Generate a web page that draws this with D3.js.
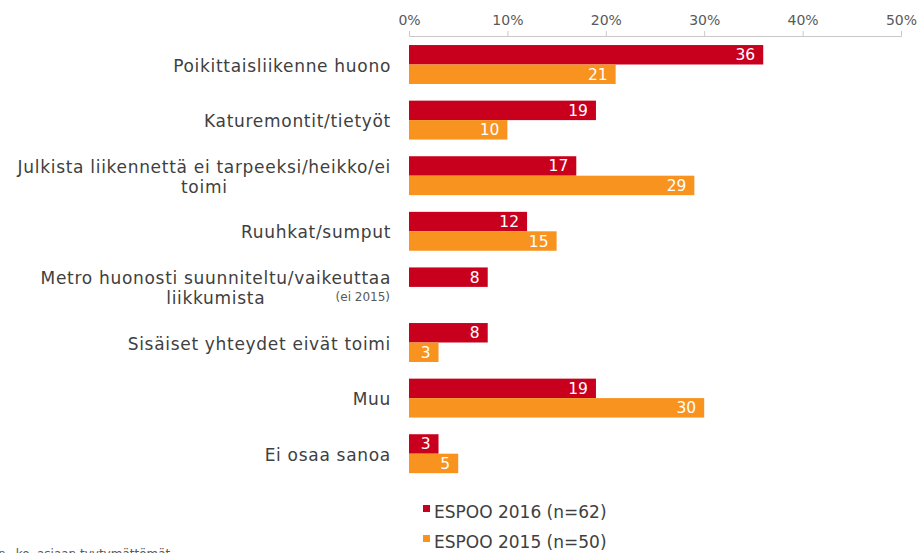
<!DOCTYPE html>
<html>
<head>
<meta charset="utf-8">
<script src="https://cdn.jsdelivr.net/npm/d3@7"></script>
<style>
  body { margin: 0; background: #fff; }
  svg { display: block; font-family: "DejaVu Sans", Verdana, sans-serif; }
</style>
</head>
<body>
<script>
// categories (each entry = lines of the wrapped label)
var categories = [
  ["Poikittaisliikenne huono"],
  ["Katuremontit/tietyöt"],
  ["Julkista liikennettä ei tarpeeksi/heikko/ei", "toimi"],
  ["Ruuhkat/sumput"],
  ["Metro huonosti suunniteltu/vaikeuttaa", "liikkumista"],
  ["Sisäiset yhteydet eivät toimi"],
  ["Muu"],
  ["Ei osaa sanoa"]
];
var values2016 = [36, 19, 17, 12, 8, 8, 19, 3];
var values2015 = [21, 10, 29, 15, null, 3, 30, 5];
var seriesNames = ["ESPOO 2016 (n=62)", "ESPOO 2015 (n=50)"];
var tickValues = [0, 10, 20, 30, 40, 50];

var w = 920, h = 553;
var red = "#c8001e", orange = "#f7931e";

var svg = d3.select("body").append("svg")
  .attr("width", w)
  .attr("height", h);

// SCALES
var xScale = d3.scaleLinear()
  .domain([0, 50])
  .range([409, 901]);

var keys = categories.map((c, i) => i);
var yScale = d3.scaleBand()
  .domain(keys)
  .range([36.7, 481.5])
  .paddingInner(0.3)
  .paddingOuter(0.15);

var ySub = d3.scaleBand()
  .domain([0, 1])
  .range([0, yScale.bandwidth()]);

// AXIS
var xAxis = d3.axisTop(xScale)
  .tickValues(tickValues)
  .tickSize(5)
  .tickPadding(6)
  .tickFormat(d => d + "%");

var gx = svg.append("g")
  .attr("transform", "translate(0,36)")
  .call(xAxis);
gx.select(".domain").attr("stroke", "#c8c8c8");
gx.selectAll(".tick line").attr("stroke", "#c8c8c8");
gx.selectAll(".tick text")
  .attr("fill", "#595959")
  .style("font-size", "14px")
  .style("font-family", "DejaVu Sans, Verdana, sans-serif");

// BARS
var series = [values2016, values2015];
var colors = [red, orange];

series.forEach((vals, s) => {
  var g = svg.append("g");
  var rows = vals.map((v, i) => ({ i: i, v: v })).filter(d => d.v != null);

  g.selectAll("rect")
    .data(rows)
    .enter()
    .append("rect")
      .attr("x", xScale(0))
      .attr("y", d => yScale(d.i) + ySub(s))
      .attr("width", d => xScale(d.v) - xScale(0))
      .attr("height", ySub.bandwidth())
      .attr("fill", colors[s]);

  g.selectAll("text")
    .data(rows)
    .enter()
    .append("text")
      .attr("x", d => xScale(d.v) - 8)
      .attr("y", d => yScale(d.i) + ySub(s) + ySub.bandwidth() / 2 + 5.5)
      .attr("text-anchor", "end")
      .attr("fill", "#fff")
      .style("font-size", "15.5px")
      .text(d => d.v);
});

// CATEGORY LABELS (block right-aligned, lines centred inside block)
var labelRight = 391;
categories.forEach((lines, i) => {
  var cy = yScale(i) + yScale.bandwidth() / 2;
  var g = svg.append("g");
  var texts = lines.map((line, k) => g.append("text")
    .attr("y", cy + 7 + (k - (lines.length - 1) / 2) * 20)
    .attr("fill", "#404040")
    .style("font-size", "17px")
    .style("letter-spacing", "0.7px")
    .text(line));
  var maxW = d3.max(texts, t => t.node().getComputedTextLength());
  texts.forEach(t => t.attr("x", labelRight - maxW / 2).attr("text-anchor", "middle"));
});

// note next to the metro label
svg.append("text")
  .attr("x", 390)
  .attr("y", yScale(4) + yScale.bandwidth() / 2 + 14)
  .attr("text-anchor", "end")
  .attr("fill", "#595959")
  .style("font-size", "12px")
  .text("(ei 2015)");

// LEGEND
var legend = svg.append("g");
seriesNames.forEach((name, s) => {
  legend.append("rect")
    .attr("x", 423)
    .attr("y", 505 + s * 30)
    .attr("width", 7)
    .attr("height", 7)
    .attr("fill", colors[s]);
  legend.append("text")
    .attr("x", 434)
    .attr("y", 518 + s * 30)
    .attr("fill", "#404040")
    .style("font-size", "17px")
    .text(name);
});

// footnote, cut at the bottom edge as in the source image
svg.append("text")
  .attr("x", -2)
  .attr("y", 558)
  .attr("fill", "#595959")
  .style("font-size", "12px")
  .text("n=ko. asiaan tyytymättömät");
</script>
</body>
</html>
